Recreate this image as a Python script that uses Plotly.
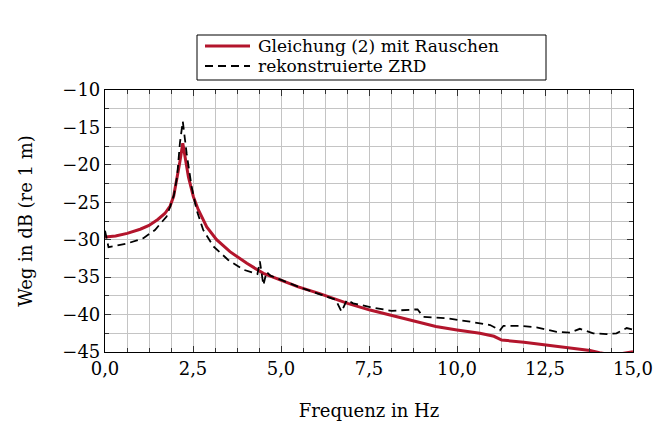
import plotly.graph_objects as go

# Gleichung (2) mit Rauschen (red)
freq_red = [0.0, 0.3, 0.63, 1.0, 1.25, 1.5, 1.7, 1.85, 1.95, 2.04, 2.12, 2.21, 2.28, 2.37, 2.51,
            2.65, 2.89, 3.17, 3.55, 4.03, 4.5, 4.97, 5.49, 6.1, 6.89, 7.53, 8.14, 8.79, 9.4,
            10.0, 10.65, 11.05, 11.27, 11.9, 12.55, 13.2, 13.78, 14.05, 14.3, 14.7, 15.0]
val_red = [-29.65, -29.5, -29.15, -28.6, -28.1, -27.3, -26.5, -25.5, -24.2, -22.0, -19.8, -17.1,
           -19.3, -21.6, -24.25, -26.0, -28.3, -30.0, -31.6, -33.15, -34.5, -35.4, -36.3, -37.2,
           -38.5, -39.4, -40.15, -40.95, -41.6, -42.05, -42.5, -42.9, -43.4, -43.7, -44.05,
           -44.4, -44.8, -45.1, -45.3, -45.2, -44.98]

# rekonstruierte ZRD (dashed)
freq_zrd = [0.0, 0.1, 0.63, 1.09, 1.42, 1.75, 1.85, 1.96, 2.05, 2.13, 2.21, 2.32, 2.46, 2.6,
            2.79, 3.08, 3.5, 3.93, 4.26, 4.33, 4.4, 4.5, 4.59, 4.7, 5.02, 5.5, 6.11, 6.55,
            6.72, 6.87, 7.05, 7.53, 8.14, 8.8, 8.88, 9.04, 9.71, 10.37, 10.94, 11.22, 11.32,
            11.79, 12.26, 12.83, 13.21, 13.49, 13.87, 14.25, 14.53, 14.82, 15.0]
val_zrd = [-28.8, -31.0, -30.5, -29.8, -28.7, -26.9, -25.6, -24.0, -21.5, -17.0, -14.2, -18.5,
           -22.9, -26.0, -28.7, -30.9, -32.7, -34.0, -34.5, -34.6, -32.9, -36.05, -34.3,
           -34.8, -35.4, -36.3, -37.3, -38.0, -39.6, -38.05, -38.5, -39.0, -39.5, -39.3,
           -39.3, -40.3, -40.5, -40.95, -41.4, -42.1, -41.5, -41.5, -41.7, -42.3, -42.4,
           -41.9, -42.5, -42.6, -42.5, -41.8, -42.0]

x_tickvals = [0.0, 2.5, 5.0, 7.5, 10.0, 12.5, 15.0]
x_ticktext = ["0,0", "2,5", "5,0", "7,5", "10,0", "12,5", "15,0"]
y_tickvals = [-10, -15, -20, -25, -30, -35, -40, -45]
y_ticktext = ["\u221210", "\u221215", "\u221220", "\u221225", "\u221230", "\u221235", "\u221240", "\u221245"]

legend_names = ["Gleichung (2) mit Rauschen", "rekonstruierte ZRD"]

FONT = "DejaVu Serif, serif"
FS = 18
LFS = 17
GRID = "#c4c4c4"
RED = "#b3152c"
DASH = "8px,5px"

fig = go.Figure()
fig.add_trace(go.Scatter(x=freq_red, y=val_red, mode="lines", name=legend_names[0],
                         line=dict(color=RED, width=3), showlegend=False))
fig.add_trace(go.Scatter(x=freq_zrd, y=val_zrd, mode="lines", name=legend_names[1],
                         line=dict(color="black", width=1.8, dash=DASH), showlegend=False))

# manual legend (paper coords: x = (px-105)/528, y = (352-py)/262)
def px_x(px):
    return (px - 105) / 528

def px_y(py):
    return (352 - py) / 262

ROW1, ROW2 = 46, 66
shapes = [
    dict(type="rect", xref="paper", yref="paper", x0=px_x(197), x1=px_x(546),
         y0=px_y(80), y1=px_y(35), line=dict(color="black", width=1), fillcolor="white"),
    dict(type="line", xref="paper", yref="paper", x0=px_x(205), x1=px_x(250),
         y0=px_y(ROW1), y1=px_y(ROW1), line=dict(color=RED, width=3)),
    dict(type="line", xref="paper", yref="paper", x0=px_x(205), x1=px_x(250),
         y0=px_y(ROW2), y1=px_y(ROW2), line=dict(color="black", width=1.8, dash=DASH)),
]
annotations = [
    dict(xref="paper", yref="paper", x=px_x(257), y=px_y(ROW1), text=legend_names[0],
         showarrow=False, xanchor="left", yanchor="middle", borderpad=0,
         font=dict(family=FONT, size=LFS)),
    dict(xref="paper", yref="paper", x=px_x(257), y=px_y(ROW2), text=legend_names[1],
         showarrow=False, xanchor="left", yanchor="middle", borderpad=0,
         font=dict(family=FONT, size=LFS)),
]

fig.update_layout(
    width=669, height=421,
    margin=dict(l=105, r=36, t=90, b=69, autoexpand=False),
    paper_bgcolor="white", plot_bgcolor="white",
    font=dict(family=FONT, size=FS, color="black"),
    showlegend=False,
    shapes=shapes,
    annotations=annotations,
)
fig.update_xaxes(
    range=[0, 15], tickvals=x_tickvals, ticktext=x_ticktext, automargin=False,
    showline=True, linecolor="black", linewidth=1.2, mirror="allticks",
    ticks="inside", ticklen=6, tickcolor="#333", tickwidth=1,
    showgrid=True, gridcolor=GRID, gridwidth=1, zeroline=False,
    minor=dict(dtick=0.625, tick0=0, showgrid=True, gridcolor=GRID, gridwidth=1,
               ticks="inside", ticklen=4, tickcolor="#333"),
    title=dict(text="Frequenz in Hz", font=dict(family=FONT, size=FS), standoff=31),
    tickfont=dict(family=FONT, size=FS),
)
fig.update_yaxes(
    range=[-45, -10], tickvals=y_tickvals, ticktext=y_ticktext, automargin=False,
    showline=True, linecolor="black", linewidth=1.2, mirror="allticks",
    ticks="inside", ticklen=6, tickcolor="#333", tickwidth=1,
    showgrid=True, gridcolor=GRID, gridwidth=1, zeroline=False,
    minor=dict(dtick=2.5, tick0=-45, showgrid=True, gridcolor=GRID, gridwidth=1,
               ticks="inside", ticklen=4, tickcolor="#333"),
    title=dict(text="Weg in dB (re 1 m)", font=dict(family=FONT, size=FS), standoff=24),
    tickfont=dict(family=FONT, size=FS),
)

fig.write_html("out.html")
